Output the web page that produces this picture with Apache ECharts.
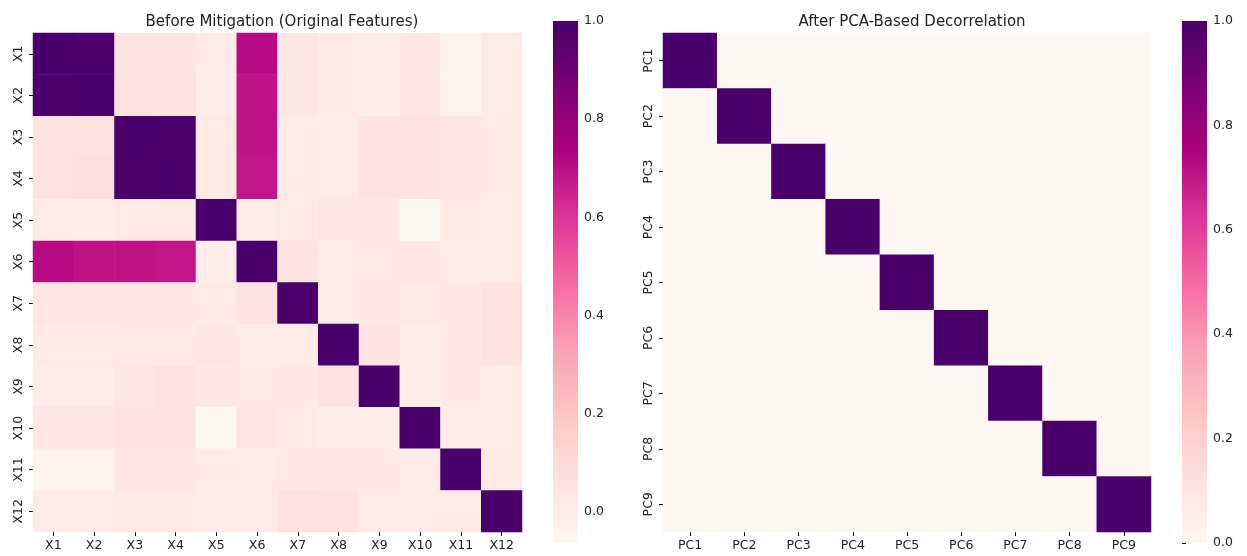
<!DOCTYPE html>
<html>
<head>
<meta charset="utf-8">
<script src="https://cdn.jsdelivr.net/npm/echarts@6/dist/echarts.min.js"></script>
<style>
  html, body { margin: 0; padding: 0; background: #fff; }
  #chart { width: 1247px; height: 556px; }
</style>
</head>
<body>
<div id="chart"></div>
<script>
// Feature labels
const featureLabels = ['X1', 'X2', 'X3', 'X4', 'X5', 'X6', 'X7', 'X8', 'X9', 'X10', 'X11', 'X12'];
const pcLabels = ['PC1', 'PC2', 'PC3', 'PC4', 'PC5', 'PC6', 'PC7', 'PC8', 'PC9'];

// Correlation matrix of the original features (rows X1..X12)
const corrBefore = [
  [ 1.00,  0.99,  0.05,  0.05,  0.01,  0.71,  0.04,  0.02,  0.00,  0.04, -0.04,  0.01],
  [ 0.99,  1.00,  0.05,  0.06,  0.00,  0.69,  0.04,  0.02,  0.00,  0.04, -0.04,  0.01],
  [ 0.05,  0.05,  1.00,  0.99,  0.02,  0.69,  0.02,  0.01,  0.05,  0.05,  0.04,  0.02],
  [ 0.05,  0.07,  0.99,  1.00,  0.02,  0.68,  0.02,  0.01,  0.05,  0.05,  0.04,  0.02],
  [ 0.01,  0.00,  0.02,  0.02,  1.00,  0.00,  0.02,  0.04,  0.03, -0.063, 0.02,  0.01],
  [ 0.71,  0.69,  0.69,  0.68,  0.00,  1.00,  0.05,  0.01,  0.02,  0.04,  0.01,  0.01],
  [ 0.04,  0.04,  0.03,  0.03,  0.02,  0.05,  1.00,  0.01,  0.03,  0.02,  0.03,  0.06],
  [ 0.02,  0.02,  0.02,  0.02,  0.04,  0.01,  0.01,  1.00,  0.05,  0.00,  0.03,  0.05],
  [ 0.00,  0.00,  0.04,  0.05,  0.03,  0.02,  0.03,  0.05,  1.00,  0.00,  0.03,  0.01],
  [ 0.04,  0.04,  0.05,  0.05, -0.063, 0.04,  0.02,  0.00,  0.00,  1.00,  0.01,  0.01],
  [-0.04, -0.04,  0.04,  0.04,  0.02,  0.01,  0.03,  0.03,  0.03,  0.01,  1.00,  0.02],
  [ 0.01,  0.01,  0.02,  0.02,  0.01,  0.01,  0.06,  0.05,  0.01,  0.01,  0.02,  1.00]
];

// Correlation matrix of the principal components (rows PC1..PC9)
const corrAfter = [
  [1, 0, 0, 0, 0, 0, 0, 0, 0],
  [0, 1, 0, 0, 0, 0, 0, 0, 0],
  [0, 0, 1, 0, 0, 0, 0, 0, 0],
  [0, 0, 0, 1, 0, 0, 0, 0, 0],
  [0, 0, 0, 0, 1, 0, 0, 0, 0],
  [0, 0, 0, 0, 0, 1, 0, 0, 0],
  [0, 0, 0, 0, 0, 0, 1, 0, 0],
  [0, 0, 0, 0, 0, 0, 0, 1, 0],
  [0, 0, 0, 0, 0, 0, 0, 0, 1]
];

// Colour scale ranges and colourbar ticks
const rangeBefore = [-0.063, 1.0];
const rangeAfter = [0.0, 1.0];
const colorbarTicks = [0.0, 0.2, 0.4, 0.6, 0.8, 1.0];

// RdPu colour map
const rdpu = ['#fff7f3', '#fde0dd', '#fcc5c0', '#fa9fb5', '#f768a1', '#dd3497', '#ae017e', '#7a0177', '#49006a'];

const FONT = 'DejaVu Sans';
const TEXT = '#222';

function toCells(matrix) {
  const out = [];
  matrix.forEach((row, r) => row.forEach((v, c) => out.push([c, r, v])));
  return out;
}

function gradientStops() {
  return rdpu.map((c, i) => ({ offset: i / (rdpu.length - 1), color: c }));
}

function catAxisX(gridIndex, labels) {
  return {
    type: 'category', gridIndex, data: labels, position: 'bottom',
    axisLine: { show: false },
    axisTick: { show: true, alignWithLabel: true, length: 4, lineStyle: { color: '#000', width: 1 } },
    axisLabel: { color: TEXT, fontFamily: FONT, fontSize: 12.5, margin: 7 },
    splitLine: { show: false }
  };
}
function catAxisY(gridIndex, labels) {
  return {
    type: 'category', gridIndex, data: labels, inverse: true,
    axisLine: { show: false },
    axisTick: { show: true, alignWithLabel: true, length: 4, lineStyle: { color: '#000', width: 1 } },
    axisLabel: { color: TEXT, fontFamily: FONT, fontSize: 12.5, rotate: 90, margin: 8 },
    splitLine: { show: false }
  };
}
function barAxisX(gridIndex) {
  return { type: 'value', gridIndex, min: 0, max: 1, show: false };
}
function barAxisY(gridIndex, range) {
  return {
    type: 'value', gridIndex, min: range[0], max: range[1], position: 'right',
    axisLine: { show: false },
    splitLine: { show: false },
    axisTick: { show: true, length: 4, customValues: colorbarTicks, lineStyle: { color: '#000', width: 1 } },
    axisLabel: { color: TEXT, fontFamily: FONT, fontSize: 12.5, margin: 6, customValues: colorbarTicks,
                 formatter: v => v.toFixed(1) }
  };
}

function colorbarSeries(axisIndex, range) {
  return {
    type: 'custom', xAxisIndex: axisIndex, yAxisIndex: axisIndex, silent: true,
    data: [[0, range[0], 1, range[1]]],
    renderItem: (params, api) => {
      const p0 = api.coord([api.value(0), api.value(1)]);
      const p1 = api.coord([api.value(2), api.value(3)]);
      return {
        type: 'rect',
        shape: { x: p0[0], y: p1[1], width: p1[0] - p0[0], height: p0[1] - p1[1] },
        style: { fill: new echarts.graphic.LinearGradient(0, 1, 0, 0, gradientStops()) }
      };
    }
  };
}

const chart = echarts.init(document.getElementById('chart'), null, { renderer: 'canvas' });

chart.setOption({
  animation: false,
  backgroundColor: '#fff',
  title: [
    { text: 'Before Mitigation (Original Features)', left: 277, top: 10, textAlign: 'center',
      textStyle: { fontFamily: FONT, fontSize: 15, fontWeight: 'normal', color: TEXT } },
    { text: 'After PCA-Based Decorrelation', left: 907, top: 10, textAlign: 'center',
      textStyle: { fontFamily: FONT, fontSize: 15, fontWeight: 'normal', color: TEXT } }
  ],
  grid: [
    { left: 33, top: 33, width: 489, height: 499 },
    { left: 553, top: 21, width: 25, height: 522 },
    { left: 663, top: 33, width: 488, height: 499 },
    { left: 1182, top: 21, width: 25, height: 522 }
  ],
  xAxis: [
    catAxisX(0, featureLabels),
    barAxisX(1),
    catAxisX(2, pcLabels),
    barAxisX(3)
  ],
  yAxis: [
    catAxisY(0, featureLabels),
    barAxisY(1, rangeBefore),
    catAxisY(2, pcLabels),
    barAxisY(3, rangeAfter)
  ],
  visualMap: [
    { type: 'continuous', show: false, seriesIndex: 0, dimension: 2,
      min: rangeBefore[0], max: rangeBefore[1], inRange: { color: rdpu } },
    { type: 'continuous', show: false, seriesIndex: 2, dimension: 2,
      min: rangeAfter[0], max: rangeAfter[1], inRange: { color: rdpu } }
  ],
  series: [
    { type: 'heatmap', xAxisIndex: 0, yAxisIndex: 0, data: toCells(corrBefore),
      itemStyle: { borderWidth: 0 }, emphasis: { disabled: true } },
    colorbarSeries(1, rangeBefore),
    { type: 'heatmap', xAxisIndex: 2, yAxisIndex: 2, data: toCells(corrAfter),
      itemStyle: { borderWidth: 0 }, emphasis: { disabled: true } },
    colorbarSeries(3, rangeAfter)
  ]
});
</script>
</body>
</html>
